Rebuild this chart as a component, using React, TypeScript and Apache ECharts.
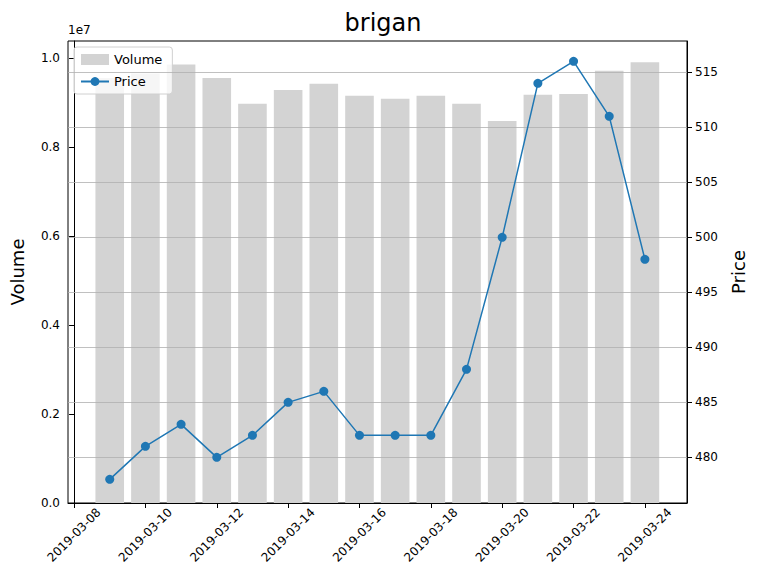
import { useEffect, useRef } from 'react';
import * as echarts from 'echarts';

// day offsets from 2019-03-08
const dayOffsets = [1, 2, 3, 4, 5, 6, 7, 8, 9, 10, 11, 12, 13, 14, 15, 16];
const volumes = [9.55e6, 9.65e6, 9.85e6, 9.55e6, 8.97e6, 9.28e6, 9.42e6, 9.15e6, 9.08e6, 9.15e6, 8.97e6, 8.58e6, 9.17e6, 9.19e6, 9.71e6, 9.9e6];
const prices = [478, 481, 483, 480, 482, 485, 486, 482, 482, 482, 488, 500, 514, 516, 511, 498];
const xTickOffsets = [0, 2, 4, 6, 8, 10, 12, 14, 16];
const xTickLabels = ['2019-03-08', '2019-03-10', '2019-03-12', '2019-03-14', '2019-03-16', '2019-03-18', '2019-03-20', '2019-03-22', '2019-03-24'];
const priceTicks = [480, 485, 490, 495, 500, 505, 510, 515];

export default function App() {
  const ref = useRef<HTMLDivElement>(null);

  useEffect(() => {
    if (!ref.current) return;
    const chart = echarts.init(ref.current, null, { renderer: 'svg' });
    const font = 'DejaVu Sans';
    chart.setOption({
      animation: false,
      textStyle: { fontFamily: font },
      title: {
        text: 'brigan',
        left: 378,
        top: 6,
        textAlign: 'center',
        textStyle: { fontSize: 24, fontWeight: 'normal', color: '#000', fontFamily: font },
      },
      graphic: [
        { type: 'text', left: 68, top: 24, style: { text: '1e7', fontSize: 12, fill: '#000', fontFamily: font } },
      ],
      legend: {
        left: 74,
        top: 47,
        orient: 'vertical',
        itemGap: 9,
        itemWidth: 28,
        itemHeight: 11,
        padding: [6, 10, 6, 6],
        borderColor: '#d0d0d0',
        borderWidth: 1,
        borderRadius: 3,
        backgroundColor: 'rgba(255,255,255,0.8)',
        textStyle: { fontSize: 13, color: '#000', fontFamily: font },
        data: [{ name: 'Volume', icon: 'rect' }, { name: 'Price' }],
      },
      grid: { left: 68, right: 72, top: 41, bottom: 85, show: true, borderColor: '#000', borderWidth: 1 },
      xAxis: {
        type: 'value',
        min: -0.17,
        max: 17.18,
        splitLine: { show: false },
        axisLine: { lineStyle: { color: '#000' } },
        axisTick: { customValues: xTickOffsets, lineStyle: { color: '#000' } },
        axisLabel: {
          customValues: xTickOffsets,
          rotate: 45,
          align: 'center',
          verticalAlign: 'middle',
          color: '#000',
          fontSize: 12,
          margin: 32,
          formatter: (v: number) => xTickLabels[xTickOffsets.indexOf(Math.round(v))] ?? '',
        },
      },
      yAxis: [
        {
          type: 'value',
          min: 0,
          max: 1.038e7,
          interval: 2e6,
          name: 'Volume',
          nameLocation: 'middle',
          nameGap: 42,
          nameTextStyle: { fontSize: 18, color: '#000', fontFamily: font },
          splitLine: { show: false },
          axisLine: { show: true, lineStyle: { color: '#000' } },
          axisTick: { show: true, lineStyle: { color: '#000' } },
          axisLabel: { color: '#000', fontSize: 12, showMaxLabel: false, formatter: (v: number) => (v / 1e7).toFixed(1) },
        },
        {
          type: 'value',
          min: 475.85,
          max: 517.85,
          position: 'right',
          name: 'Price',
          nameLocation: 'middle',
          nameGap: 42,
          nameTextStyle: { fontSize: 18, color: '#000', fontFamily: font },
          splitLine: { show: false },
          axisLine: { show: true, lineStyle: { color: '#000' } },
          axisTick: { show: true, customValues: priceTicks, lineStyle: { color: '#000' } },
          axisLabel: { customValues: priceTicks, color: '#000', fontSize: 12 },
        },
      ],
      series: [
        {
          name: 'Volume',
          type: 'bar',
          yAxisIndex: 0,
          barWidth: 28.6,
          itemStyle: { color: '#d3d3d3' },
          data: dayOffsets.map((d, i) => [d, volumes[i]]),
        },
        {
          name: 'Price',
          type: 'line',
          yAxisIndex: 1,
          symbol: 'circle',
          symbolSize: 9,
          z: 5,
          itemStyle: { color: '#1f77b4' },
          lineStyle: { color: '#1f77b4', width: 1.5 },
          data: dayOffsets.map((d, i) => [d, prices[i]]),
          markLine: {
            silent: true,
            symbol: ['none', 'none'],
            label: { show: false },
            lineStyle: { color: '#b0b0b0', width: 0.8, type: 'solid' },
            data: priceTicks.map((p) => ({ yAxis: p })),
          },
        },
      ],
    });
    return () => chart.dispose();
  }, []);

  return <div ref={ref} style={{ position: 'absolute', left: 0, top: 0, width: 759, height: 588 }} />;
}
